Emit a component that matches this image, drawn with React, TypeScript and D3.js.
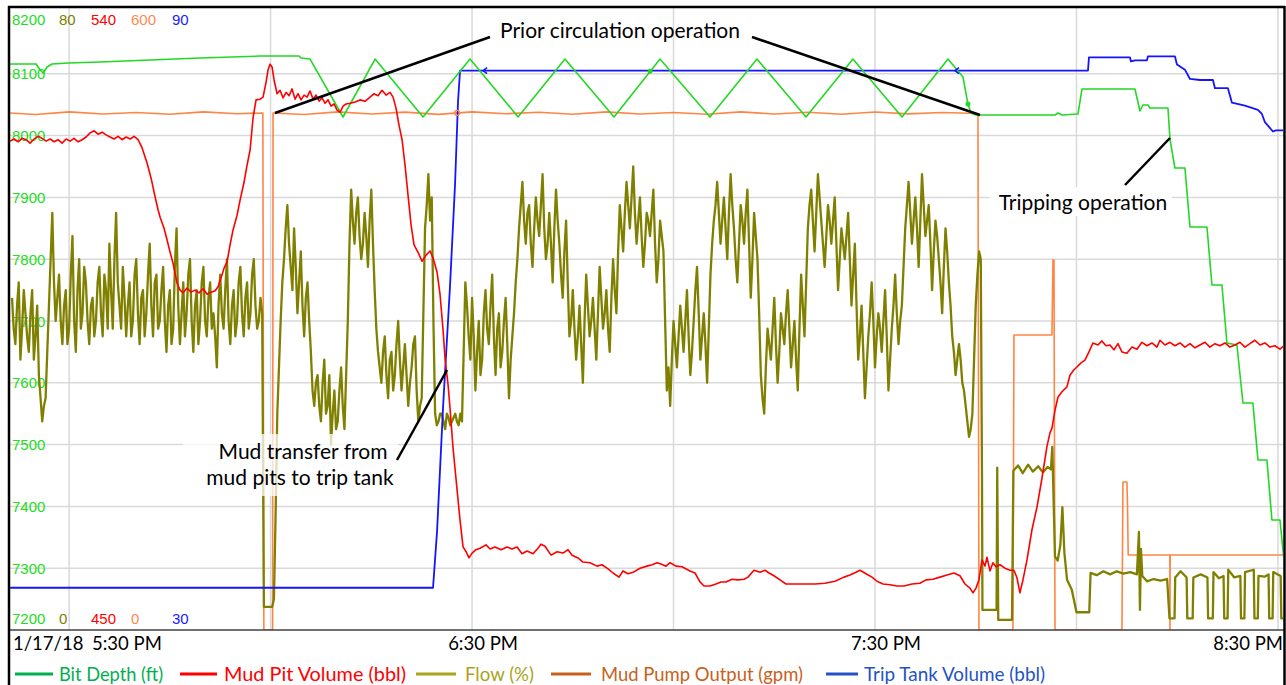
import React from "react";
import * as d3 from "d3";

const W = 1286;
const H = 685;

// Time values are minutes after 5:00 PM on 1/17/18
const BASE = new Date(2018, 0, 17, 17, 0, 0);
const toDate = (m: number) => new Date(BASE.getTime() + m * 60000);

const TIME_DOMAIN = [21.2, 210.9];
const DATE_LABEL = "1/17/18";

const depthTicks = [8200, 8100, 8000, 7900, 7800, 7700, 7600, 7500, 7400, 7300, 7200];
const flowAxis = [0, 80];
const pitAxis = [450, 540];
const pumpAxis = [0, 600];
const tripAxis = [30, 90];

const seriesNames = ["Bit Depth (ft)", "Mud Pit Volume (bbl)", "Flow (%)", "Mud Pump Output (gpm)", "Trip Tank Volume (bbl)"];

// Bit depth (ft)
const bitDepth: [number, number][] = [
  [21.22, 8115.8], [25.09, 8115.8], [25.68, 8106.1], [26.13, 8101.3], [26.72, 8111.0], [27.47, 8115.8],
  [29.85, 8117.4], [34.62, 8119.0], [42.06, 8122.3], [49.5, 8125.5], [58.44, 8128.7], [64.24, 8128.7],
  [64.54, 8125.5], [65.88, 8123.9], [70.79, 8030.1], [75.56, 8123.9], [82.7, 8030.1], [89.7, 8123.9],
  [96.85, 8030.1], [103.84, 8123.9], [111.14, 8030.1], [117.99, 8123.9], [125.43, 8030.1], [132.43, 8123.9],
  [139.73, 8030.1], [146.72, 8123.9], [154.02, 8030.1], [160.87, 8123.9], [163.1, 8094.8], [163.84, 8051.1],
  [164.29, 8036.6], [165.04, 8033.3], [176.8, 8033.3], [177.24, 8036.6], [177.84, 8033.3], [180.22, 8034.9],
  [180.82, 8075.4], [188.71, 8075.4], [189.45, 8039.8], [189.9, 8049.5], [190.64, 8049.5], [190.94, 8044.6],
  [193.62, 8044.6], [193.92, 7994.4], [194.66, 7947.5], [196.15, 7947.5], [196.9, 7852.1], [199.43, 7852.1],
  [200.17, 7758.2], [201.66, 7758.2], [202.4, 7664.4], [203.89, 7661.2], [204.79, 7567.3], [206.27, 7567.3],
  [207.02, 7475.1], [208.36, 7475.1], [209.1, 7378.0], [210.3, 7378.0], [210.89, 7313.3],
];
const depthMarkers: [number, number][] = [[116.5, 8104], [163.84, 8051.1]];

// Mud pit volume (bbl)
const mudPit: [number, number][] = [
  [21.22, 521.2], [21.81, 521.5], [22.41, 521.1], [23.0, 521.6], [23.6, 521.4], [24.19, 520.9], [24.79, 521.5],
  [25.38, 521.9], [25.98, 521.6], [26.58, 521.2], [27.17, 521.5], [27.77, 521.1], [28.36, 521.4], [28.96, 520.9],
  [29.55, 521.5], [30.15, 521.2], [30.74, 521.6], [31.34, 521.1], [31.94, 521.4], [32.53, 521.8], [33.13, 522.4],
  [33.72, 522.7], [34.32, 522.2], [34.91, 522.5], [35.51, 522.1], [36.1, 521.8], [36.7, 521.5], [37.3, 521.9],
  [37.89, 521.4], [38.49, 521.8], [39.08, 521.5], [39.68, 521.9], [40.27, 521.4], [40.87, 520.2], [41.61, 518.0],
  [42.21, 515.8], [42.8, 513.1], [43.25, 511.2], [43.55, 510.1], [44.14, 508.5], [44.59, 506.8], [45.04, 505.0],
  [45.48, 503.4], [46.08, 500.5], [46.53, 499.5], [46.97, 499.1], [47.57, 499.8], [48.16, 499.2], [48.76, 499.5],
  [49.35, 499.1], [49.95, 499.7], [50.55, 498.9], [51.14, 499.2], [51.74, 499.4], [52.18, 500.0], [52.63, 501.3],
  [53.08, 502.7], [53.52, 503.6], [53.97, 506.1], [54.42, 508.3], [55.01, 510.4], [55.46, 512.6], [56.05, 515.2],
  [56.5, 517.7], [56.95, 519.9], [57.39, 524.6], [57.84, 527.2], [58.44, 527.3], [58.88, 527.6], [59.33, 529.8],
  [59.63, 531.6], [59.92, 532.4], [60.22, 532.0], [60.52, 530.1], [60.97, 528.1], [61.41, 528.6], [61.86, 527.5],
  [62.31, 528.3], [62.75, 527.8], [63.2, 528.8], [63.65, 527.3], [64.09, 528.1], [64.54, 527.2], [64.99, 527.9],
  [65.43, 527.6], [65.88, 528.5], [66.33, 527.3], [66.77, 527.9], [67.22, 527.0], [67.67, 527.5], [68.11, 526.7],
  [68.56, 527.2], [69.01, 526.3], [69.45, 526.6], [69.9, 525.7], [70.35, 525.4], [70.79, 526.3], [71.24, 526.6],
  [71.84, 526.7], [72.58, 526.9], [73.32, 527.2], [74.07, 527.0], [74.81, 527.6], [75.41, 528.1], [76.0, 527.8],
  [76.6, 528.6], [77.19, 527.9], [77.79, 528.3], [78.24, 527.6], [78.68, 526.0], [79.13, 523.5], [79.58, 521.4],
  [80.02, 517.7], [80.47, 513.3], [80.92, 509.0], [81.36, 506.1], [81.96, 505.0], [82.55, 503.7], [83.15, 504.6],
  [83.75, 505.2], [84.19, 504.2], [84.79, 502.1], [85.23, 498.9], [85.68, 493.7], [85.98, 489.5], [86.43, 485.7],
  [86.72, 482.3], [87.17, 476.5], [87.77, 470.4], [88.21, 466.0], [88.66, 462.1], [89.11, 461.4], [89.55, 460.5],
  [90.0, 461.2], [90.59, 461.7], [91.19, 461.9], [92.08, 462.4], [92.68, 461.8], [93.42, 462.1], [94.32, 461.7],
  [95.21, 462.1], [95.95, 461.8], [96.7, 462.1], [97.44, 461.1], [98.19, 461.5], [99.08, 461.1], [99.82, 461.9],
  [100.27, 462.5], [100.87, 462.2], [101.76, 460.9], [102.65, 461.4], [103.55, 461.2], [104.29, 461.7], [104.89, 460.9],
  [105.78, 460.5], [106.52, 459.9], [107.57, 459.8], [108.61, 459.3], [109.35, 459.5], [110.25, 458.9], [110.99, 458.3],
  [111.88, 457.7], [112.48, 458.6], [113.22, 458.2], [113.97, 458.4], [115.01, 459.0], [116.05, 459.3], [116.8, 459.5],
  [117.54, 459.8], [118.14, 459.6], [118.88, 459.3], [119.48, 459.8], [120.37, 459.3], [121.26, 459.2], [122.45, 458.6],
  [123.2, 458.3], [123.94, 457.0], [124.54, 456.4], [125.43, 456.4], [126.32, 456.7], [127.07, 457.0], [127.81, 457.0],
  [128.71, 457.4], [129.6, 457.3], [130.49, 457.4], [131.09, 457.7], [131.98, 458.7], [132.88, 458.4], [133.62, 458.7],
  [134.22, 458.3], [134.96, 457.9], [135.85, 457.3], [136.75, 456.7], [138.09, 456.7], [139.58, 456.7], [141.06, 456.7],
  [142.55, 456.8], [144.04, 457.1], [145.38, 457.7], [146.28, 458.0], [147.17, 458.4], [147.76, 458.7], [148.66, 458.2],
  [149.55, 457.7], [150.29, 457.1], [151.19, 456.7], [152.23, 456.6], [153.27, 456.4], [154.31, 456.4], [155.5, 456.7],
  [156.69, 456.8], [157.59, 457.3], [158.63, 457.4], [159.68, 457.7], [160.72, 458.0], [161.76, 458.3], [162.65, 457.9],
  [163.4, 456.7], [164.14, 456.1], [164.59, 455.4], [165.04, 456.1], [165.48, 457.3], [165.93, 460.2], [166.38, 459.3],
  [166.67, 460.6], [167.12, 458.6], [167.56, 459.8], [168.01, 459.2], [168.61, 459.5], [169.35, 459.0], [170.1, 458.7],
  [170.69, 458.7], [171.14, 457.6], [171.58, 455.4], [172.03, 457.3], [172.63, 460.2], [173.37, 464.6], [174.12, 467.9],
  [174.86, 472.1], [175.6, 476.7], [176.05, 478.7], [176.35, 479.4], [176.8, 482.0], [177.24, 483.9], [177.84, 484.7],
  [178.58, 485.4], [179.03, 487.1], [179.62, 487.9], [180.07, 488.3], [180.67, 488.9], [181.26, 489.3], [181.86, 490.5],
  [182.45, 491.8], [183.2, 491.5], [183.79, 492.1], [184.39, 491.4], [184.98, 491.5], [185.58, 490.8], [186.17, 491.7],
  [186.77, 490.5], [187.51, 490.3], [188.26, 491.2], [189.0, 490.9], [189.75, 491.9], [190.49, 491.4], [191.24, 491.8],
  [191.98, 491.2], [192.43, 492.2], [193.17, 491.5], [193.92, 491.9], [194.66, 491.4], [195.41, 491.8], [196.15, 491.2],
  [196.9, 491.7], [197.64, 491.1], [198.38, 491.5], [199.13, 491.9], [199.87, 491.2], [200.62, 491.7], [201.36, 491.4],
  [202.11, 491.8], [202.85, 491.2], [203.6, 491.5], [204.34, 491.9], [205.08, 491.2], [205.83, 491.7], [206.57, 492.2],
  [207.32, 491.5], [208.06, 491.8], [208.81, 491.2], [209.55, 491.4], [210.3, 490.9], [210.89, 491.4],
];

// Flow (%) logged every 0.25 min: "flowA/flowB" on the half minute, "flowMidA/flowMidB" a quarter minute later
const flowSampleStep = 0.5;
const flowStartA = 21.5;
const flowA = [
  43, 37, 45, 39, 41, 36, 44, 38, 33, 27,
  30, 42, 54, 40, 46, 37, 44, 39, 51, 36,
  48, 41, 45, 37, 43, 40, 47, 38, 44, 50,
  39, 54, 42, 47, 38, 45, 40, 48, 37, 44,
  41, 50, 38, 46, 40, 47, 36, 44, 39, 52,
  37, 45, 41, 48, 36, 44, 40, 47, 38, 45,
  41, 34, 46, 39, 48, 37, 44, 40, 47, 38,
  45, 41, 48, 39, 43,
];
const flowMidA = [
  39, 42, 35, 44, 38, 41, 35, 42, 30, 29,
  36, 48, 45, 43, 40, 42, 37, 46, 40, 44,
  39, 47, 40, 42, 38, 45, 41, 46, 39, 44,
  48, 45, 39, 43, 42, 38, 46, 41, 43, 38,
  46, 42, 45, 39, 44, 40, 42, 37, 47, 42,
  41, 38, 46, 40, 42, 37, 45, 40, 43, 39,
  38, 42, 41, 44, 40, 42, 38, 45, 41, 43,
  39, 46, 42, 40, 41,
];
const flowStartB = 59.0;
const flowB = [
  3, 3, 3, 4, 28, 40, 48, 55, 47, 52,
  41, 49, 38, 45, 36, 29, 33, 27, 35, 29,
  24, 31, 27, 34, 26, 40, 57, 50, 56, 48,
  54, 47, 57, 44, 36, 32, 38, 30, 36, 33,
  40, 31, 37, 29, 34, 38, 27, 30, 52, 59,
  56, 28, 27, 28, 26, 27.5, 27, 28, 26.5, 27,
  45, 38, 43, 31, 40, 35, 44, 37, 46, 33,
  41, 36, 43, 30, 38, 45, 52, 58, 50, 55,
  47, 56, 51, 59, 48, 54, 45, 57, 50, 43,
  53, 38, 44, 35, 42, 32, 46, 38, 43, 35,
  47, 39, 44, 36, 48, 41, 55, 49, 58, 52,
  60, 50, 56, 47, 54, 51, 57, 45, 53, 49,
  31, 29, 40, 34, 42, 36, 44, 33, 40, 47,
  35, 41, 32, 46, 53, 58, 50, 56, 48, 59,
  52, 45, 55, 50, 57, 43, 54, 48, 33, 28,
  39, 35, 43, 32, 41, 37, 44, 34, 40, 31,
  46, 38, 52, 57, 49, 59, 53, 47, 55, 50,
  56, 44, 52, 48, 54, 42, 50, 35, 42, 30,
  38, 45, 34, 41, 36, 44, 31, 39, 46, 37,
  42, 52, 58, 50, 56, 47, 59, 51, 55, 44,
  53, 48, 41, 52, 45, 38, 33, 37, 32, 29,
  25, 28, 42, 49,
];
const flowMidB = [
  3, 3, 3, 15, 34, 45, 52, 50, 44, 47,
  45, 42, 43, 40, 31, 32, 29, 32, 28, 33,
  28, 26, 31, 29, 33, 50, 53, 54, 51, 50,
  51, 53, 50, 39, 34, 36, 33, 35, 31, 37,
  35, 34, 33, 32, 37, 31, 29, 41, 55, 53,
  40, 26.5, 28, 27, 28, 26.5, 27.5, 27, 28, 36,
  42, 35, 38, 36, 33, 41, 39, 42, 38, 39,
  34, 40, 37, 35, 41, 48, 55, 53, 54, 50,
  52, 53, 55, 52, 50, 50, 52, 53, 46, 49,
  45, 40, 39, 38, 37, 40, 42, 40, 39, 41,
  43, 41, 39, 43, 44, 49, 52, 54, 55, 56,
  54, 53, 51, 50, 53, 54, 50, 48, 51, 40,
  34, 35, 37, 38, 39, 40, 38, 36, 44, 41,
  38, 37, 39, 50, 55, 54, 53, 52, 54, 55,
  48, 50, 53, 54, 50, 48, 51, 41, 30, 34,
  37, 39, 37, 36, 39, 41, 39, 37, 35, 39,
  42, 45, 55, 53, 54, 56, 50, 51, 53, 53,
  50, 48, 50, 51, 48, 46, 42, 38, 36, 34,
  41, 40, 38, 39, 40, 38, 35, 42, 41, 40,
  47, 55, 54, 53, 52, 53, 55, 53, 50, 49,
  51, 45, 47, 49, 42, 36, 35, 35, 31, 27,
  26, 35, 46,
];
const flowTail: [number, number][] = [
  [165.75, 48], [165.93, 20], [166.0, 2.6], [168.1, 2.6], [168.2, 21], [168.35, 1.3], [170.4, 1.3],
  [170.6, 20.6], [171.3, 21.3], [172.0, 20.3], [172.8, 21.4], [173.5, 20.5], [174.3, 21.2], [175.0, 20.4],
  [175.7, 21.1], [176.2, 20.8], [176.4, 23.7], [176.8, 9.5], [177.2, 9.0], [177.6, 11], [177.9, 15.9],
  [178.2, 10], [178.6, 6.5], [179.3, 5.2], [180.0, 2.3], [181.9, 2.3], [182.1, 7.4], [183.0, 7.1],
  [184.0, 7.6], [185.0, 7.2], [186.0, 7.6], [187.0, 7.3], [188.0, 7.5], [189.0, 7.2], [189.3, 12.7],
  [189.45, 2.6], [189.6, 10.5], [189.8, 7.0], [190.5, 6.3], [191.5, 6.6], [192.5, 6.4], [193.5, 6.6],
  [193.85, 1.5], [194.6, 1.5], [194.7, 6.8], [195.5, 7.6], [196.4, 6.8], [196.5, 1.5], [197.3, 1.5],
  [197.4, 6.8], [198.5, 7.2], [199.5, 6.8], [199.6, 1.5], [200.3, 1.5], [200.4, 7.5], [201.2, 6.7],
  [201.9, 7.0], [202.0, 1.5], [202.5, 1.5], [202.6, 7.8], [203.5, 6.8], [204.4, 7.0], [204.5, 1.5],
  [205.0, 1.5], [205.1, 7.5], [206.4, 7.8], [206.5, 1.5], [207.0, 1.5], [207.1, 7.0], [208.0, 6.9],
  [208.6, 7.2], [208.7, 1.5], [209.2, 1.5], [209.3, 7.5], [210.4, 7.0], [210.5, 1.5], [210.9, 1.5],
];

// Mud pump output (gpm)
const mudPump: [number, number][] = [
  [21.22, 502], [25, 500.5], [30, 503], [35, 501], [40, 502.5], [45, 500.8], [50, 503], [55, 501.2],
  [58.85, 502], [59.0, 0], [60.3, 0], [60.37, 502], [65, 500.5], [70, 503], [75, 501], [80, 502.8],
  [85, 500.6], [90, 503], [95, 501.2], [100, 502.6], [105, 500.8], [110, 503], [115, 501], [120, 502.5],
  [125, 500.7], [130, 503], [135, 501], [140, 502.7], [145, 500.8], [150, 502.9], [155, 501.1], [160, 502.5],
  [165.33, 501.5], [165.48, 0], [170.54, 0], [170.69, 286.4], [176.35, 286.4], [176.5, 359.2], [176.65, 359.2],
  [176.8, 0], [186.77, 0], [186.92, 143.7], [187.51, 143.7], [187.6, 121], [187.7, 72.8], [193.9, 72.8],
  [193.92, 0], [193.95, 72.8], [210.89, 72.8],
];
const pumpMarkers: [number, number][] = [[87.77, 502]];

// Trip tank volume (bbl)
const tripTank: [number, number][] = [
  [21.22, 34.1], [84.19, 34.1], [84.79, 39.6], [85.68, 51.6], [86.72, 63.4], [87.47, 73.3], [87.91, 81.3],
  [88.21, 84.3], [181.71, 84.3], [181.86, 85.6], [187.96, 85.6], [188.11, 85.2], [188.71, 85.3], [190.49, 85.3],
  [190.64, 85.7], [194.66, 85.7], [194.96, 84.9], [196.15, 84.4], [196.9, 83.5], [198.38, 83.4], [200.32, 83.4],
  [200.62, 82.6], [202.55, 82.6], [203.15, 81.2], [205.08, 80.9], [207.02, 80.5], [207.61, 80.1], [208.06, 79.3],
  [209.25, 78.4], [209.7, 78.5], [210.89, 78.5],
];
const tripMarkers: [number, number][] = [[91.64, 84.3], [161.9, 84.3]];

const annotations = [
  { lines: ["Prior circulation operation"] },
  { lines: ["Mud transfer from", "mud pits to trip tank"] },
  { lines: ["Tripping operation"] },
];

// ---------- layout / style (not data) ----------
const PLOT = { left: 10, right: 1284, top: 12, bottom: 630, frameTop: 7 };
const TXT_FONT = "Lato, 'Open Sans', sans-serif";
const NUM_FONT = "'Liberation Sans', Arial, sans-serif";
const C = {
  depth: "#22d822",
  pit: "#ff0000",
  flow: "#808000",
  pump: "#ff8545",
  trip: "#1414ff",
  grid: "#d9d9d9",
};
const LEG = [
  { color: "#00b050", x1: 15, x2: 53, tx: 59, tw: 104 },
  { color: "#ff0000", x1: 180, x2: 217, tx: 224, tw: 182 },
  { color: "#aaa41c", x1: 416, x2: 456, tx: 465, tw: 69 },
  { color: "#c8601a", x1: 551, x2: 591, tx: 601, tw: 202 },
  { color: "#2353c4", x1: 826, x2: 858, tx: 864, tw: 181 },
];

export default function App() {
  const x = d3.scaleTime().domain([toDate(TIME_DOMAIN[0]), toDate(TIME_DOMAIN[1])]).range([PLOT.left, PLOT.right]);
  const yDepth = d3.scaleLinear().domain([depthTicks[depthTicks.length - 1], depthTicks[0]]).range([PLOT.bottom, PLOT.top]);
  const yFlow = d3.scaleLinear().domain(flowAxis).range([PLOT.bottom, PLOT.top]);
  const yPit = d3.scaleLinear().domain(pitAxis).range([PLOT.bottom, PLOT.top]);
  const yPump = d3.scaleLinear().domain(pumpAxis).range([PLOT.bottom, PLOT.top]);
  const yTrip = d3.scaleLinear().domain(tripAxis).range([PLOT.bottom, PLOT.top]);

  const mk = (ys: d3.ScaleLinear<number, number>) =>
    d3.line<[number, number]>().x((d) => x(toDate(d[0]))).y((d) => ys(d[1]));

  const sampled = (start: number, vals: number[], mids: number[]) => {
    const out: [number, number][] = [];
    vals.forEach((v, i) => {
      const t = start + i * flowSampleStep;
      out.push([t, v]);
      if (i < mids.length) out.push([t + flowSampleStep / 2, mids[i]]);
    });
    return out;
  };

  const flowData: [number, number][] = [
    ...sampled(flowStartA, flowA, flowMidA),
    ...sampled(flowStartB, flowB, flowMidB),
    ...flowTail,
  ];

  const gridTimes = x.ticks(d3.timeMinute.every(30) as any);
  const fmt = d3.timeFormat("%-I:%M %p");
  const hourTicks = gridTimes.filter((d) => d.getMinutes() === 30);

  const innerTicks = depthTicks.slice(1, -1);

  return (
    <div style={{ position: "absolute", left: 0, top: 0, width: W, height: H, background: "#fff" }}>
      <svg width={W} height={H} style={{ display: "block" }}>
        <defs>
          <clipPath id="plotClip">
            <rect x={PLOT.left} y={PLOT.frameTop} width={PLOT.right - PLOT.left - 1} height={PLOT.bottom - PLOT.frameTop} />
          </clipPath>
        </defs>
        <rect x={0} y={0} width={W} height={H} fill="#fff" />

        {/* grid */}
        {innerTicks.map((v) => (
          <line key={"h" + v} x1={PLOT.left} x2={PLOT.right} y1={yDepth(v)} y2={yDepth(v)} stroke={C.grid} strokeWidth={1.5} />
        ))}
        {gridTimes.map((d, i) => (
          <line key={"v" + i} x1={x(d)} x2={x(d)} y1={PLOT.frameTop} y2={PLOT.bottom} stroke={C.grid} strokeWidth={1.5} />
        ))}

        {/* left axis labels */}
        <g fontFamily={NUM_FONT} fontSize={15}>
          {depthTicks.map((v, i) => {
            const yy = i === 0 ? 25 : i === depthTicks.length - 1 ? 623.5 : yDepth(v) + 5.5;
            return (
              <text key={"d" + v} x={12} y={yy} fill="#22dd22">{v}</text>
            );
          })}
          <text x={59} y={25} fill="#808000">{flowAxis[1]}</text>
          <text x={91} y={25} fill="#ff0000">{pitAxis[1]}</text>
          <text x={131} y={25} fill="#ff8a50">{pumpAxis[1]}</text>
          <text x={172} y={25} fill="#2020ff">{tripAxis[1]}</text>
          <text x={59} y={623.5} fill="#808000">{flowAxis[0]}</text>
          <text x={91} y={623.5} fill="#ff0000">{pitAxis[0]}</text>
          <text x={131} y={623.5} fill="#ff8a50">{pumpAxis[0]}</text>
          <text x={172} y={623.5} fill="#2020ff">{tripAxis[0]}</text>
        </g>

        {/* series */}
        <g clipPath="url(#plotClip)" fill="none" strokeLinejoin="round">
          <path d={mk(yPump)(mudPump) || ""} stroke={C.pump} strokeWidth={1.6} />
          <path d={mk(yFlow)(flowData) || ""} stroke={C.flow} strokeWidth={2.3} />
          <path d={mk(yTrip)(tripTank) || ""} stroke={C.trip} strokeWidth={1.8} />
          <path d={mk(yDepth)(bitDepth) || ""} stroke={C.depth} strokeWidth={1.6} />
          <path d={mk(yPit)(mudPit) || ""} stroke={C.pit} strokeWidth={1.6} />
          {pumpMarkers.map((d, i) => (
            <circle key={"pm" + i} cx={x(toDate(d[0]))} cy={yPump(d[1])} r={2.5} fill="none" stroke={C.pump} strokeWidth={1.2} />
          ))}
          {depthMarkers.map((d, i) => (
            <circle key={"dm" + i} cx={x(toDate(d[0]))} cy={yDepth(d[1])} r={2.5} fill={C.depth} />
          ))}
          {tripMarkers.map((d, i) => {
            const cx = x(toDate(d[0]));
            const cy = yTrip(d[1]);
            return <path key={"tm" + i} d={`M${cx + 4},${cy - 3} L${cx},${cy} L${cx + 4},${cy + 3}`} stroke={C.trip} strokeWidth={1.5} fill="none" />;
          })}
        </g>

        {/* annotation boxes */}
        <rect x={183} y={434} width={215} height={62} fill="#fff" opacity={0.75} />
        <rect x={990} y={187} width={182} height={29} fill="#fff" opacity={0.9} />

        {/* annotation leader lines */}
        <g stroke="#000" strokeWidth={2.5}>
          <line x1={490} y1={37} x2={275} y2={113} />
          <line x1={752} y1={37} x2={980} y2={115} />
          <line x1={397} y1={460} x2={447} y2={370} />
          <line x1={1125} y1={185} x2={1170} y2={138} />
        </g>
        <g fontFamily={TXT_FONT} fontSize={21} fill="#000" textAnchor="middle">
          <text x={620} y={38}>{annotations[0].lines[0]}</text>
          <text x={303} y={459}>{annotations[1].lines[0]}</text>
          <text x={300} y={485}>{annotations[1].lines[1]}</text>
          <text x={1083} y={210}>{annotations[2].lines[0]}</text>
        </g>

        {/* axis line */}
        <line x1={PLOT.left} x2={PLOT.right} y1={PLOT.bottom} y2={PLOT.bottom} stroke="#404040" strokeWidth={1.5} />

        {/* time labels */}
        <g fontFamily={TXT_FONT} fontSize={18.5} fill="#000">
          {hourTicks.map((d, i) => {
            if (i === 0) {
              return (
                <g key="t0">
                  <text x={13} y={650}>{DATE_LABEL}</text>
                  <text x={92} y={650}>{fmt(d)}</text>
                </g>
              );
            }
            const last = i === hourTicks.length - 1;
            return (
              <text key={"t" + i} x={last ? 1283 : x(d) + 11} y={650} textAnchor={last ? "end" : "middle"}>
                {fmt(d)}
              </text>
            );
          })}
        </g>

        {/* legend */}
        <g fontFamily={TXT_FONT} fontSize={18.7}>
          {seriesNames.map((name, i) => (
            <g key={name}>
              <line x1={LEG[i].x1} x2={LEG[i].x2} y1={674} y2={674} stroke={LEG[i].color} strokeWidth={3} />
              <text x={LEG[i].tx} y={681} fill={LEG[i].color} textLength={LEG[i].tw} lengthAdjust="spacingAndGlyphs">{name}</text>
            </g>
          ))}
        </g>

        {/* frame */}
        <g stroke="#000" strokeWidth={2.5} fill="none">
          <line x1={9} x2={9} y1={PLOT.frameTop - 1} y2={H} />
          <line x1={8} x2={1285} y1={PLOT.frameTop} y2={PLOT.frameTop} />
          <line x1={1284.5} x2={1284.5} y1={PLOT.frameTop - 1} y2={H} />
        </g>
      </svg>
    </div>
  );
}
